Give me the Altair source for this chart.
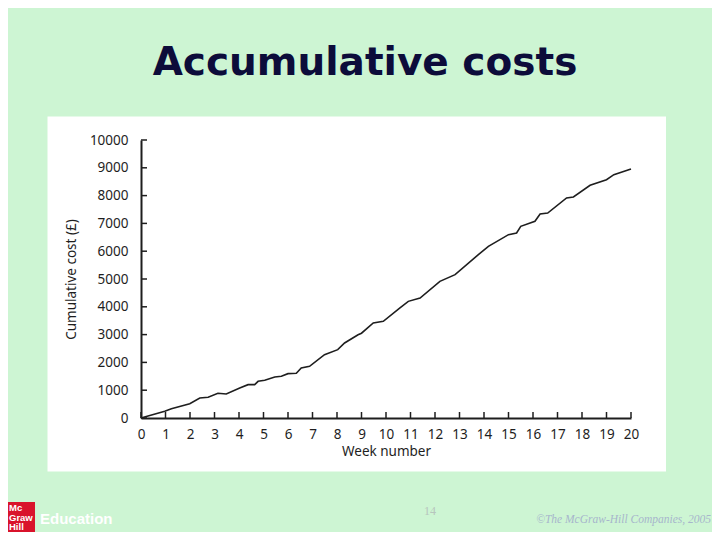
import altair as alt
import pandas as pd

# ---- data ----
weeks = [0, 0.97, 1.24, 1.99, 2.4, 2.74, 3.14, 3.48, 4.03, 4.37, 4.64, 4.78, 5.05,
         5.46, 5.73, 6.0, 6.34, 6.54, 6.88, 7.49, 8.03, 8.31, 8.86, 9.0, 9.48, 9.89,
         10.57, 10.91, 11.39, 12.2, 12.82, 13.77, 14.18, 15.0, 15.33, 15.5, 16.08,
         16.29, 16.6, 17.37, 17.65, 18.33, 19.0, 19.3, 20.0]
costs = [0, 240, 335, 515, 720, 745, 888, 863, 1079, 1199, 1199, 1319, 1355,
         1475, 1500, 1595, 1607, 1799, 1859, 2278, 2458, 2698, 2996, 3050, 3417, 3477,
         3957, 4196, 4316, 4916, 5156, 5875, 6175, 6595, 6655, 6895, 7075,
         7338, 7374, 7914, 7950, 8370, 8573, 8753, 8957]

x_ticks = list(range(0, 21))
y_ticks = list(range(0, 10001, 1000))

title_text = ["Accumulative costs"]
page_number = ["14"]
copyright_text = ["\u00a9The McGraw-Hill Companies, 2005"]
logo_text = ["Mc\nGraw\nHill"]
edu_text = ["Education"]

BG = "#CDF5D3"
INK = "#1e1e1e"
FONT = "Noto Sans"

df = pd.DataFrame({"week": weeks, "cost": costs})
xs = alt.Scale(domain=[0, 20], nice=False, zero=False)
ys = alt.Scale(domain=[0, 10000], nice=False)

x_axis = alt.Axis(values=x_ticks, format="d", tickSize=0, labelPadding=9,
                  labelFlush=False, labelOverlap=False,
                  labelFont=FONT, labelFontSize=13.5, labelColor=INK,
                  domainColor=INK, domainWidth=2, grid=False, zindex=2,
                  title="Week number", titleFont=FONT, titleFontSize=13.5,
                  titleFontWeight="normal", titleColor=INK, titlePadding=4)
y_axis = alt.Axis(values=y_ticks, format="d", tickSize=0, labelPadding=13,
                  labelFlush=False, labelOverlap=False,
                  labelFont=FONT, labelFontSize=13.5, labelColor=INK,
                  domainColor=INK, domainWidth=2, grid=False, zindex=2,
                  title="Cumulative cost (\u00a3)", titleFont=FONT,
                  titleFontSize=13.5, titleFontWeight="normal",
                  titleColor=INK, titlePadding=11)

one = pd.DataFrame({"a": [0]})

line = alt.Chart(df).mark_line(color=INK, strokeWidth=1.6).encode(
    x=alt.X("week:Q", scale=xs, axis=x_axis),
    y=alt.Y("cost:Q", scale=ys, axis=y_axis),
)

# white picture panel behind the graph
panel = alt.Chart(one).mark_rect(color="white").encode(
    x=alt.value(-93.5), x2=alt.value(525), y=alt.value(-23.5), y2=alt.value(331.5)
)

xt = alt.Chart(pd.DataFrame({"week": x_ticks})).mark_rule(color=INK, strokeWidth=1.5).encode(
    x=alt.X("week:Q", scale=xs, axis=x_axis), y=alt.value(278), y2=alt.value(272)
)
yt = alt.Chart(pd.DataFrame({"cost": y_ticks})).mark_rule(color=INK, strokeWidth=1.5).encode(
    y=alt.Y("cost:Q", scale=ys, axis=y_axis), x=alt.value(0), x2=alt.value(6)
)

title = alt.Chart(pd.DataFrame({"t": title_text})).mark_text(
    font="DejaVu Sans", fontWeight="bold", fontSize=39, color="#0c0c3a",
    align="center", baseline="middle"
).encode(text="t:N", x=alt.value(224), y=alt.value(-77))

logo_box = alt.Chart(one).mark_rect(color="#D9132B").encode(
    x=alt.value(-133), x2=alt.value(-106), y=alt.value(362), y2=alt.value(392)
)
logo = alt.Chart(pd.DataFrame({"t": logo_text})).mark_text(
    font="Liberation Sans", fontWeight="bold", fontSize=9.5, color="white",
    align="left", baseline="top", lineBreak="\n", lineHeight=9.5
).encode(text="t:N", x=alt.value(-132), y=alt.value(363))
edu = alt.Chart(pd.DataFrame({"t": edu_text})).mark_text(
    font="Liberation Sans", fontWeight="bold", fontSize=15, color="white",
    align="left", baseline="middle"
).encode(text="t:N", x=alt.value(-101), y=alt.value(379))

pnum = alt.Chart(pd.DataFrame({"t": page_number})).mark_text(
    font="Liberation Serif", fontSize=12, color="#b7c5bd", align="center", baseline="middle"
).encode(text="t:N", x=alt.value(289), y=alt.value(371))

copy = alt.Chart(pd.DataFrame({"t": copyright_text})).mark_text(
    font="Liberation Serif", fontStyle="italic", fontSize=11.5, color="#a7b6cc",
    align="right", baseline="middle"
).encode(text="t:N", x=alt.value(570), y=alt.value(380))

chart = alt.layer(panel, line, xt, yt, title, logo_box, logo, edu, pnum, copy).properties(
    width=490, height=278,
    autosize=alt.AutoSizeParams(type="none"),
    padding={"left": 133, "top": 132, "right": 81, "bottom": 114},
    background=BG,
).configure_view(stroke=None)

chart.save("out.html", embed_options={"renderer": "svg", "actions": False})
